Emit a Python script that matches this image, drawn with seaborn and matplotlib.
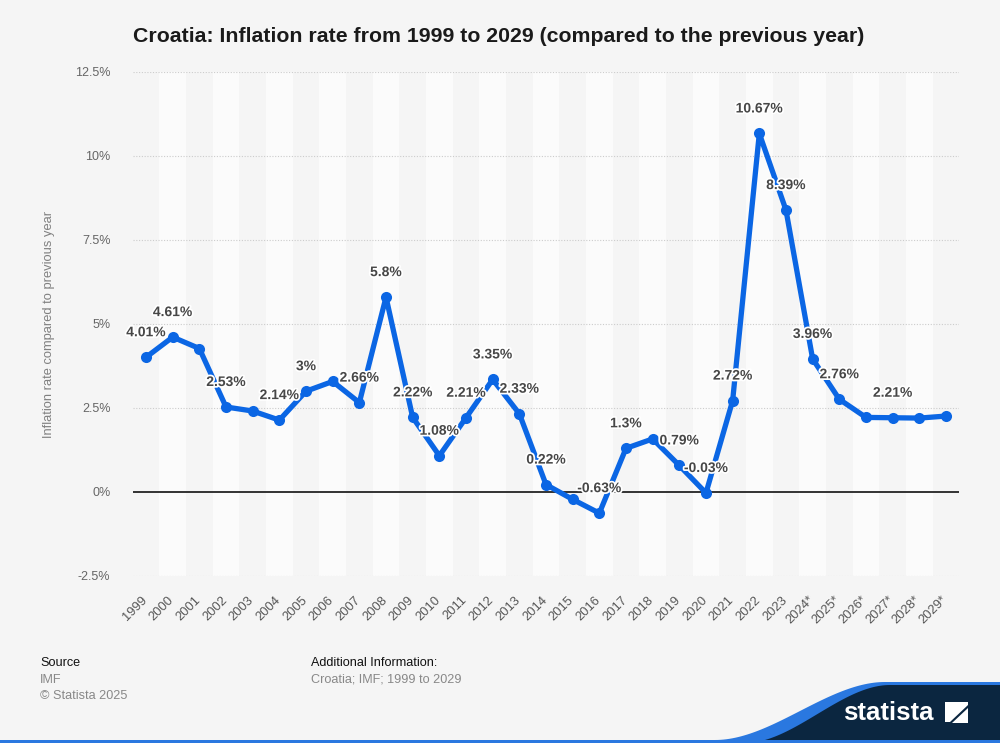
import matplotlib
matplotlib.use("Agg")
import matplotlib.pyplot as plt
import matplotlib.patheffects as pe
from matplotlib.patches import Polygon, Rectangle
from matplotlib.transforms import ScaledTranslation
import numpy as np
import pandas as pd
import seaborn as sns

# ---- data ----
years = ["1999", "2000", "2001", "2002", "2003", "2004", "2005", "2006", "2007", "2008",
         "2009", "2010", "2011", "2012", "2013", "2014", "2015", "2016", "2017", "2018",
         "2019", "2020", "2021", "2022", "2023", "2024*", "2025*", "2026*", "2027*", "2028*", "2029*"]
inflation = [4.01, 4.61, 4.27, 2.53, 2.41, 2.14, 3.0, 3.29, 2.66, 5.8,
             2.22, 1.08, 2.21, 3.35, 2.33, 0.22, -0.22, -0.63, 1.3, 1.58,
             0.79, -0.03, 2.72, 10.67, 8.39, 3.96, 2.76, 2.22, 2.21, 2.2, 2.26]
label_texts = ["4.01%", "4.61%", "", "2.53%", "", "2.14%", "3%", "", "2.66%", "5.8%",
               "2.22%", "1.08%", "2.21%", "3.35%", "2.33%", "0.22%", "", "-0.63%", "1.3%", "",
               "0.79%", "-0.03%", "2.72%", "10.67%", "8.39%", "3.96%", "2.76%", "", "2.21%", "", ""]
y_ticks = [-2.5, 0, 2.5, 5, 7.5, 10, 12.5]
y_tick_labels = ["-2.5%", "0%", "2.5%", "5%", "7.5%", "10%", "12.5%"]

title = "Croatia: Inflation rate from 1999 to 2029 (compared to the previous year)"
y_label = "Inflation rate compared to previous year"

df = pd.DataFrame({"year": years, "value": inflation})

# ---- style ----
sns.set_theme(style="white")
plt.rcParams['font.family'] = ['Liberation Sans', 'DejaVu Sans']

BG = "#f5f5f5"
BAND = "#fbfbfb"
BLUE = "#0b66e4"
NAVY = "#0b2640"

fig = plt.figure(figsize=(10, 7.43), dpi=100, facecolor=BG)
W, H = 1000, 743
ax_left, ax_right, ax_top, ax_bottom = 132.7, 959.3, 72, 576
ax = fig.add_axes([ax_left / W, 1 - ax_bottom / H, (ax_right - ax_left) / W, (ax_bottom - ax_top) / H])
ax.set_facecolor(BG)

n = len(years)
for i in range(n):
    if i % 2 == 1:
        ax.axvspan(i - 0.5, i + 0.5, color=BAND, zorder=0, lw=0)

for t in y_ticks:
    if t == 0:
        ax.axhline(0, color="#111111", lw=1.2, zorder=1)
    else:
        ax.axhline(t, color="#cccccc", lw=0.8, ls=(0, (1, 1.5)), zorder=1)

sns.lineplot(data=df, x="year", y="value", sort=False, ax=ax, color=BLUE, lw=3.8,
             marker="o", markersize=8, markeredgewidth=0, zorder=3)

for i, (v, t) in enumerate(zip(inflation, label_texts)):
    if t:
        ax.annotate(t, (i, v), xytext=(0, 18), textcoords="offset points",
                    ha="center", va="center", fontsize=10, fontweight="bold",
                    color="#474747", zorder=4,
                    path_effects=[pe.withStroke(linewidth=2.5, foreground="white")])

ax.set_xlim(-0.5, n - 0.5)
ax.set_ylim(-2.5, 12.5)
ax.set_yticks(y_ticks)
ax.set_yticklabels(y_tick_labels)
ax.set_xticks(range(n))
ax.set_xticklabels(years, rotation=45, ha="right", rotation_mode="anchor")
ax.tick_params(axis="y", length=0, pad=16, labelsize=9, labelcolor="#666666")
ax.tick_params(axis="x", length=0, pad=13, labelsize=9.3, labelcolor="#555555")
shift = ScaledTranslation(-5 / 100, 0, fig.dpi_scale_trans)
for lab in ax.get_xticklabels():
    lab.set_transform(lab.get_transform() + shift)
for s in ax.spines.values():
    s.set_visible(False)
ax.set_xlabel("")
ax.set_ylabel(y_label, fontsize=9.3, color="#808080")
ax.yaxis.set_label_coords((55 - ax_left) / (ax_right - ax_left), 0.5)

# ---- title ----
fig.text(133 / W, 1 - 36 / H, title, fontsize=15.3, fontweight="bold", color="#1a1a1a",
         ha="left", va="center")

# ---- footer ----
FS = 9.1
fig.text(40 / W, 1 - 663 / H, "Source", fontsize=FS, color="#111111", ha="left", va="center")
fig.text(40 / W, 1 - 680 / H, "IMF", fontsize=FS, color="#888888", ha="left", va="center")
fig.text(40 / W, 1 - 696 / H, "© Statista 2025", fontsize=FS, color="#888888", ha="left", va="center")
fig.text(311 / W, 1 - 663 / H, "Additional Information:", fontsize=FS, color="#111111", ha="left", va="center")
fig.text(311 / W, 1 - 680 / H, "Croatia; IMF; 1999 to 2029", fontsize=FS, color="#888888", ha="left", va="center")

# ---- logo ----
def fx(x):
    return x / W

def fy(y):
    return 1 - y / H

xs = np.linspace(715, 885, 60)
s = (xs - 715) / 170
curve_top = 740 - 58 * (3 * s**2 - 2 * s**3)
blue_pts = [(fx(x), fy(y)) for x, y in zip(xs, curve_top)] + [(fx(1000), fy(682)), (fx(1000), fy(743)), (fx(715), fy(743))]
fig.patches.append(Polygon(blue_pts, closed=True, transform=fig.transFigure, color="#2a78e0", lw=0, zorder=1))
xs2 = np.linspace(745, 890, 60)
s2 = (xs2 - 745) / 145
curve2 = 743 - 58 * (3 * s2**2 - 2 * s2**3)
navy_pts = [(fx(x), fy(y)) for x, y in zip(xs2, curve2)] + [(fx(1000), fy(685)), (fx(1000), fy(743)), (fx(745), fy(743))]
fig.patches.append(Polygon(navy_pts, closed=True, transform=fig.transFigure, color=NAVY, lw=0, zorder=2))
fig.patches.append(Rectangle((0, 0), 1, 3 / H, transform=fig.transFigure, color="#2a78e0", lw=0, zorder=3))
fig.text(fx(843), fy(713), "statista", fontsize=18.5, fontweight="bold", color="white",
         ha="left", va="center", zorder=4)
fig.patches.append(Polygon([(fx(945), fy(702)), (fx(968), fy(702)), (fx(968), fy(705)),
                            (fx(950), fy(722)), (fx(945), fy(722))],
                           closed=True, transform=fig.transFigure, color="white", lw=0, zorder=4))
fig.patches.append(Polygon([(fx(968), fy(708)), (fx(968), fy(723)), (fx(952), fy(723))],
                           closed=True, transform=fig.transFigure, color="white", lw=0, zorder=4))

fig.savefig("out.png", dpi=100, facecolor=BG)
